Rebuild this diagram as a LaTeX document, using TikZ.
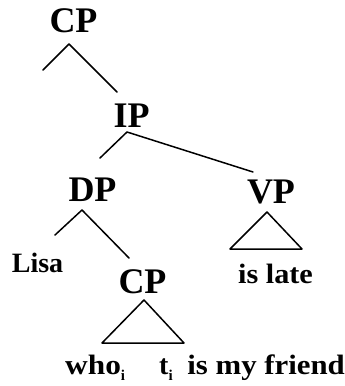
\documentclass[tikz,border=0pt]{standalone}
\usepackage{fontspec}
\usepackage{graphicx}
\setmainfont{Liberation Serif}
\tikzset{
  phr/.style={inner sep=0pt, anchor=base, font=\bfseries\fontsize{36}{36}\selectfont},
  wrd/.style={inner sep=0pt, anchor=base, font=\bfseries\fontsize{28}{28}\selectfont},
  br/.style={line width=1.5pt, line cap=round, line join=round}
}
\newcommand{\sbi}{\raisebox{-0.22em}{\fontsize{15}{15}\selectfont i}}
\begin{document}
\begin{tikzpicture}[x=1pt,y=-1pt]
\useasboundingbox (0,0) rectangle (345,386);
% labels
\node[phr] (cp1) at (73.5,32) {CP};
\node[phr] (ip) at (131.5,127) {IP};
\node[phr] (dp) at (92.5,201) {DP};
\node[phr] (vp) at (271,203) {VP};
\node[wrd] (lisa) at (37.5,272) {Lisa};
\node[phr] (cp2) at (142.5,293) {CP};
\node[wrd] (late) at (275.5,283) {\scalebox{1.08}[1]{is late}};
\node[wrd, anchor=base west] (who) at (65,374) {\scalebox{1.12}[1]{who}\sbi};
\node[wrd, anchor=base west] (t) at (159,374) {t\sbi};
\node[wrd, anchor=base east] (friend) at (345,374) {\scalebox{1.1}[1]{is my friend}};
% branch points
\coordinate (cpA) at (69,44);
\coordinate (cpL) at (43,70);
\coordinate (cpR) at (117,92);
\coordinate (ipA) at (127,132);
\coordinate (ipL) at (100,158);
\coordinate (ipR) at (253,172);
\coordinate (dpA) at (82,210);
\coordinate (dpL) at (55,235);
\coordinate (dpR) at (129,258);
\coordinate (vpA) at (267,212);
\coordinate (vpL) at (230,249);
\coordinate (vpR) at (302,249);
\coordinate (cA) at (144,300);
\coordinate (cL) at (102,343);
\coordinate (cR) at (184,343);
% branches
\draw[br] (cpL) -- (cpA) -- (cpR);
\draw[br] (ipL) -- (ipA) -- (ipR);
\draw[br] (dpL) -- (dpA) -- (dpR);
\draw[br] (vpA) -- (vpL) -- (vpR) -- cycle;
\draw[br] (cA) -- (cL) -- (cR) -- cycle;
\end{tikzpicture}
\end{document}
